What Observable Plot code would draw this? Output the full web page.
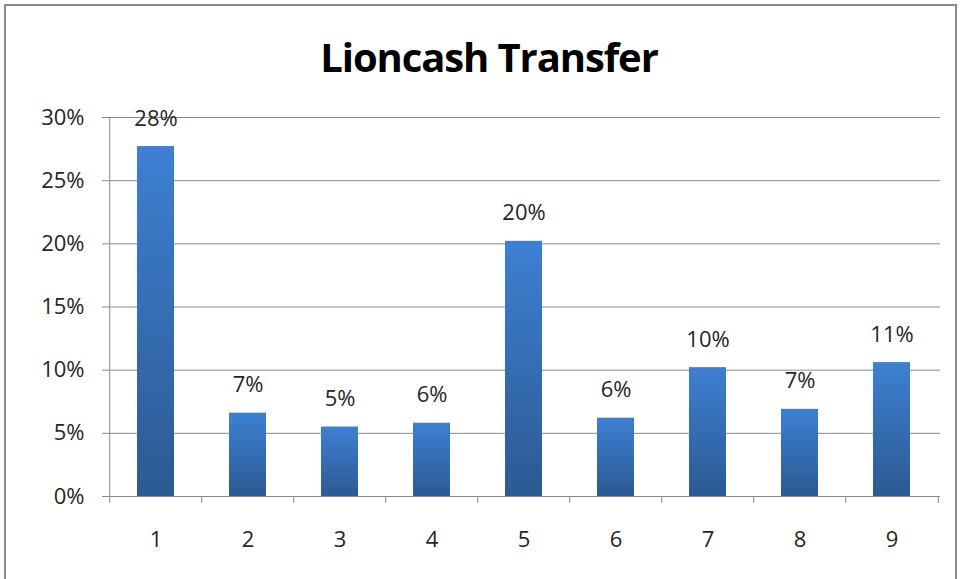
<!DOCTYPE html>
<html>
<head>
<meta charset="utf-8">
<script src="https://cdn.jsdelivr.net/npm/d3@7"></script>
<script src="https://cdn.jsdelivr.net/npm/@observablehq/plot@0.6"></script>
<style>
  html, body { margin: 0; padding: 0; background: #fff; }
  #wrap { position: relative; width: 962px; height: 579px; overflow: hidden; font-family: "Open Sans", Lato, sans-serif; }
  #frame { position: absolute; left: 4px; top: 4px; width: 953px; height: 580px; border: 2px solid #8c8c8c; box-sizing: border-box; pointer-events: none; }
  #title { position: absolute; left: 0; width: 978px; top: 29px; text-align: center; font-size: 40px; line-height: 56px; font-weight: bold; color: #000; letter-spacing: -1.1px; }
  #chart { position: absolute; left: 0; top: 0; }
</style>
</head>
<body>
<div id="wrap">
  <div id="chart"></div>
  <div id="title">Lioncash Transfer</div>
  <div id="frame"></div>
</div>
<script>
const categories = ["1", "2", "3", "4", "5", "6", "7", "8", "9"];
const values = [0.277, 0.066, 0.055, 0.058, 0.202, 0.062, 0.102, 0.069, 0.106];
const labels = ["28%", "7%", "5%", "6%", "20%", "6%", "10%", "7%", "11%"];
const yTicks = [0, 0.05, 0.10, 0.15, 0.20, 0.25, 0.30];

const data = categories.map((c, i) => ({cat: c, value: values[i], label: labels[i]}));

const W = 962, H = 579, mL = 107, mR = 22, mT = 117, mB = 83;
const step = (W - mL - mR) / categories.length;
const grey = "#8a8a8a";
const txt = "#262626";
const fs = 22;

const chart = Plot.plot({
  width: W, height: H,
  marginLeft: mL, marginRight: mR, marginTop: mT, marginBottom: mB,
  style: {fontFamily: "'Open Sans', Lato, sans-serif", fontSize: fs + "px", color: txt, background: "transparent"},
  x: {domain: categories, paddingInner: 0.6, paddingOuter: 0.3, label: null},
  y: {domain: [0, 0.30], label: null},
  marks: [
    Plot.gridY(yTicks, {stroke: grey, strokeOpacity: 1, strokeWidth: 1}),
    Plot.barY(data, {x: "cat", y: "value", fill: "url(#barGrad)"}),
    Plot.ruleX([0], {x: () => categories[0], dx: -step / 2, y1: 0, y2: 0.30, stroke: grey}),
    Plot.axisY(yTicks, {tickSize: 5, tickPadding: 18, tickFormat: d => Math.round(d * 100) + "%", stroke: grey, fill: txt, fontSize: fs}),
    Plot.axisX(categories, {tickSize: 7, tickFormat: () => "", dx: -step / 2, stroke: grey}),
    Plot.axisX([categories[categories.length - 1]], {tickSize: 7, tickFormat: () => "", dx: step / 2, stroke: grey}),
    Plot.axisX(categories, {tickSize: 0, tickPadding: 35, fill: txt, fontSize: fs}),
    Plot.text(data, {x: "cat", y: "value", text: "label", dy: -28, lineAnchor: "middle", fill: txt, fontSize: fs})
  ]
});

const defs = d3.select(chart).insert("defs", ":first-child");
const g = defs.append("linearGradient").attr("id", "barGrad").attr("x1", 0).attr("y1", 0).attr("x2", 0).attr("y2", 1);
g.append("stop").attr("offset", "0%").attr("stop-color", "#3d80d2");
g.append("stop").attr("offset", "100%").attr("stop-color", "#2c5a93");

document.getElementById("chart").appendChild(chart);
</script>
</body>
</html>
